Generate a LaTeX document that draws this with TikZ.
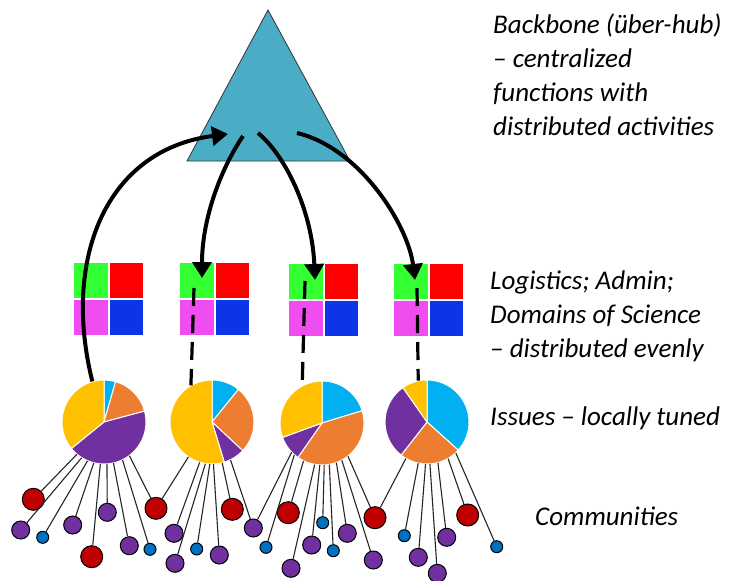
\documentclass[tikz,border=0pt]{standalone}
\usepackage{fontspec}
\setmainfont{Carlito}
\usetikzlibrary{arrows.meta,positioning}

\definecolor{hubteal}{HTML}{4BACC6}
\definecolor{sqgreen}{HTML}{33FF33}
\definecolor{sqred}{HTML}{FF0000}
\definecolor{sqpink}{HTML}{F04DF0}
\definecolor{sqblue}{HTML}{0B35E6}
\definecolor{pieyellow}{HTML}{FFC000}
\definecolor{pieorange}{HTML}{ED7D31}
\definecolor{piepurple}{HTML}{7030A0}
\definecolor{piesky}{HTML}{00B0F0}
\definecolor{comred}{HTML}{C00000}
\definecolor{comblue}{HTML}{0070C0}

% one slice of a pie node: node, from angle, to angle, colour
\newcommand{\pieslice}[4]{%
  \fill[#4, draw=white, line width=1pt] (#1.center) -- ([shift={(#2:42pt)}]#1.center)
    arc[start angle=#2, end angle=#3, radius=42pt] -- cycle;}

\tikzset{
  cell/.style={minimum width=34.5pt, minimum height=36pt, inner sep=0pt, draw=white, line width=1pt, anchor=north west},
  pie/.style={circle, minimum size=84pt, inner sep=0pt},
  cred/.style={circle, draw=black, line width=1pt, fill=comred, minimum size=22pt, inner sep=0pt},
  cpurple/.style={circle, draw=black, line width=1pt, fill=piepurple, minimum size=18pt, inner sep=0pt},
  cblue/.style={circle, draw=black, line width=1pt, fill=comblue, minimum size=12pt, inner sep=0pt},
  link/.style={draw=black!85, line width=1.1pt},
  hubarrow/.style={line width=4pt, -{Triangle[length=16pt, width=19pt]}},
  dashlink/.style={line width=3.2pt, dash pattern=on 18pt off 9pt},
  lbl/.style={align=left, inner sep=0pt, font=\fontsize{27}{34}\selectfont\itshape}
}

\begin{document}
\begin{tikzpicture}[x=1pt, y=1pt]
\useasboundingbox (0,0) rectangle (731,-581);

% backbone
\filldraw[fill=hubteal, draw=black!80, line width=0.8pt] (268,-10) -- (187,-161) -- (350,-161) -- cycle;
\coordinate (in1) at (228,-134);
\coordinate (out2) at (243,-136);
\coordinate (out3) at (258,-133);
\coordinate (out4) at (297,-133);

% logistics / admin / domains
\foreach \n/\x/\y in {1/73/262, 2/179/262, 3/288/263, 4/393/263} {
  \node[cell, fill=sqgreen] (g\n) at (\x,-\y) {};
  \node[cell, fill=sqred] (r\n) at (g\n.north east) {};
  \node[cell, fill=sqpink] (m\n) at (g\n.south west) {};
  \node[cell, fill=sqblue] (b\n) at (g\n.south east) {};
}

% issues
\node[pie] (p1) at (104,-422) {};
\node[pie] (p2) at (212,-422) {};
\node[pie] (p3) at (322,-423) {};
\node[pie] (p4) at (427,-422) {};
\foreach \p/\a/\b/\c in {p1/74/15/-141, p2/51/-43/-73, p3/17/-125/-160, p4/-42/-128/-235} {
  \pieslice{\p}{90}{\a}{piesky}
  \pieslice{\p}{\a}{\b}{pieorange}
  \pieslice{\p}{\b}{\c}{piepurple}
  \pieslice{\p}{\c}{-270}{pieyellow}
}

% communities
\foreach \n/\x/\y in {r1/33.3/499.3, r2/91.7/556.7, r3/156/508.3, r4/232.3/509.3,
    r5/288.3/512.7, r6/375/517.7, r7/467.7/515}
  \node[cred] (\n) at (\x,-\y) {};
\foreach \n/\x/\y in {u1/20.7/530, u2/72.7/525, u3/107.3/512.3, u4/129.3/545.7,
    u5/174/533.3, u6/175/563.3, u7/219.3/555, u8/253.3/528, u9/291/568.3,
    u10/311.7/545, u11/347.3/533.3, u12/373.3/560, u13/418.3/557.3,
    u14/437.3/573.3, u15/446.7/537.3}
  \node[cpurple] (\n) at (\x,-\y) {};
\foreach \n/\x/\y in {b1/42.7/537.3, b2/150/549.3, b3/196.7/549, b4/266/547.3,
    b5/322.7/522.7, b6/333.3/550.7, b7/404.3/535.7, b8/496.7/546.7}
  \node[cblue] (\n) at (\x,-\y) {};

\foreach \n/\p/\a in {r1/p1/230, u1/p1/238, b1/p1/247, u2/p1/256, r2/p1/265,
    u3/p1/274, u4/p1/283, b2/p1/296, r3/p1/307,
    r3/p2/236, u5/p2/253, u6/p2/261, b3/p2/267, u7/p2/272, r4/p2/284, u8/p2/296,
    u8/p3/224, b4/p3/229, r5/p3/244, u9/p3/260, u10/p3/267, b5/p3/273,
    b6/p3/280, u11/p3/290, u12/p3/298, r6/p3/308,
    r6/p4/240, b7/p4/258, u13/p4/268, u14/p4/274, u15/p4/285, r7/p4/300, b8/p4/313}
  \draw[link] (\n) -- (\p.\a);

% arrows to and from the hub
\coordinate (t2) at (202,-278);
\coordinate (t3) at (315,-280);
\coordinate (t4) at (415,-280);
\draw[hubarrow] (p1.106) .. controls (62,-260) and (105,-150) .. (in1);
\draw[hubarrow] (out2) .. controls (220,-170) and (202,-220) .. (t2);
\draw[hubarrow] (out3) .. controls (285,-155) and (312,-210) .. (t3);
\draw[hubarrow] (out4) .. controls (360,-148) and (408,-225) .. (t4);

\coordinate (d2) at (194,-288);
\coordinate (d3) at (305,-281);
\coordinate (d4) at (417,-288);
\draw[dashlink] (d2) -- (p2.120);
\draw[dashlink] (d3) -- (p3.118);
\draw[dashlink] (d4) -- (p4.102);

% labels (base = last line)
\node[lbl, anchor=base west] (backbone) at (493,-135) {Backbone (über-hub)\\– centralized\\functions with\\distributed activities};
\node[lbl, anchor=base west] (logistics) at (490,-357) {Logistics; Admin;\\Domains of Science\\– distributed evenly};
\node[lbl, anchor=base west] (issues) at (490,-425) {Issues – locally tuned};
\node[lbl, anchor=base west] (communities) at (535,-525) {Communities};
\end{tikzpicture}
\end{document}
